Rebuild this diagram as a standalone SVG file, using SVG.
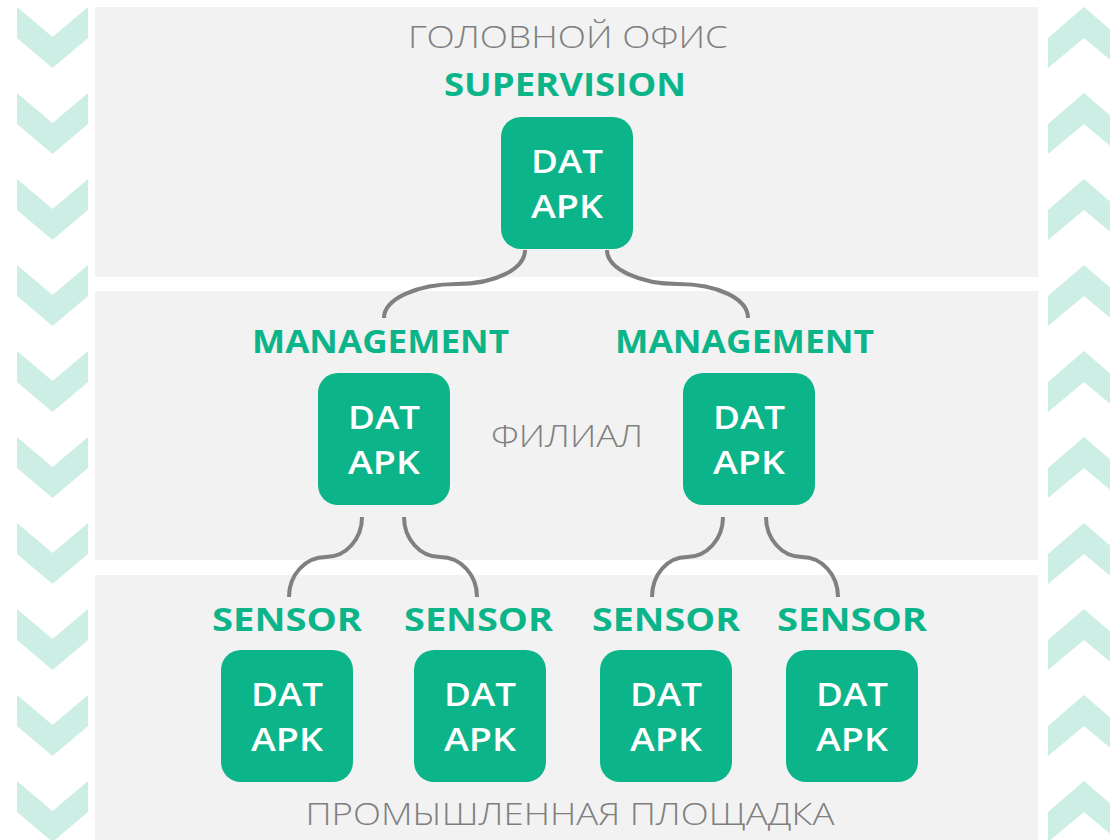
<svg xmlns="http://www.w3.org/2000/svg" xmlns:xlink="http://www.w3.org/1999/xlink" width="1110" height="840" viewBox="0 0 1110 840">
<style>
.band{fill:#f2f2f2}
.chev{fill:#cdeee4}
.node{fill:#0cb489}
.nt{font-family:"Open Sans","DejaVu Sans",sans-serif;font-weight:600;font-size:32px;fill:#ffffff;text-anchor:middle}
.lbl{font-family:"Open Sans","DejaVu Sans",sans-serif;font-weight:700;font-size:32px;fill:#0cb489;text-anchor:middle}
.zone{font-family:"Open Sans","DejaVu Sans",sans-serif;font-weight:300;font-size:31px;fill:#7f7f7f;text-anchor:middle}
.conn{fill:none;stroke:#808080;stroke-width:4}
</style>
<defs>
<path id="chl" d="M17,0 L52.5,30 L88,0 L88,31 L52.5,61 L17,31 Z"/>
<path id="chr" d="M1048,31 L1084,0 L1120,31 L1120,61 L1084,31 L1048,61 Z"/>
</defs>
<rect width="1110" height="840" fill="#ffffff"/>
<g id="chevrons">
<use xlink:href="#chl" class="chev" y="7"/>
<use xlink:href="#chl" class="chev" y="93"/>
<use xlink:href="#chl" class="chev" y="179"/>
<use xlink:href="#chl" class="chev" y="265"/>
<use xlink:href="#chl" class="chev" y="351"/>
<use xlink:href="#chl" class="chev" y="437"/>
<use xlink:href="#chl" class="chev" y="523"/>
<use xlink:href="#chl" class="chev" y="609"/>
<use xlink:href="#chl" class="chev" y="695"/>
<use xlink:href="#chl" class="chev" y="781"/>
<use xlink:href="#chr" class="chev" y="7"/>
<use xlink:href="#chr" class="chev" y="93"/>
<use xlink:href="#chr" class="chev" y="179"/>
<use xlink:href="#chr" class="chev" y="265"/>
<use xlink:href="#chr" class="chev" y="351"/>
<use xlink:href="#chr" class="chev" y="437"/>
<use xlink:href="#chr" class="chev" y="523"/>
<use xlink:href="#chr" class="chev" y="609"/>
<use xlink:href="#chr" class="chev" y="695"/>
<use xlink:href="#chr" class="chev" y="781"/>
</g>
<g id="bands">
<rect class="band" x="95" y="7" width="943" height="270"/>
<rect class="band" x="95" y="291" width="943" height="269"/>
<rect class="band" x="95" y="575" width="943" height="265"/>
</g>
<g id="zone-labels">
<text class="zone" x="568" y="48" textLength="320" lengthAdjust="spacingAndGlyphs">ГОЛОВНОЙ ОФИС</text>
<text class="zone" x="567" y="447" textLength="152" lengthAdjust="spacingAndGlyphs">ФИЛИАЛ</text>
<text class="zone" x="570" y="825" textLength="529" lengthAdjust="spacingAndGlyphs">ПРОМЫШЛЕННАЯ ПЛОЩАДКА</text>
</g>
<g id="connectors">
<path class="conn" d="M525,250 C525,269 495,284 457,284 C417,284 384,299 384,318"/>
<path class="conn" d="M607,250 C607,269 640,284 678,284 C718,284 748,299 748,318"/>
<path class="conn" d="M362,517 C362,539 346,557 326,557 C305,557 289,575 289,597"/>
<path class="conn" d="M404,517 C404,539 420,557 440,557 C461,557 477,575 477,597"/>
<path class="conn" d="M723,517 C723,539 707,557 687,557 C667,557 652,575 652,597"/>
<path class="conn" d="M766,517 C766,539 782,557 802,557 C822,557 838,575 838,597"/>
</g>
<g id="supervision">
<text class="lbl" x="565" y="96" textLength="242" lengthAdjust="spacingAndGlyphs">SUPERVISION</text>
<rect class="node" x="501" y="117" width="132" height="132" rx="20"/>
<text class="nt" x="567" y="173" textLength="72" lengthAdjust="spacingAndGlyphs">DAT</text>
<text class="nt" x="567" y="218" textLength="72" lengthAdjust="spacingAndGlyphs">APK</text>
</g>
<g id="management-1">
<text class="lbl" x="380.5" y="353" textLength="257" lengthAdjust="spacingAndGlyphs">MANAGEMENT</text>
<rect class="node" x="318" y="373" width="132" height="132" rx="20"/>
<text class="nt" x="384" y="429" textLength="72" lengthAdjust="spacingAndGlyphs">DAT</text>
<text class="nt" x="384" y="474" textLength="72" lengthAdjust="spacingAndGlyphs">APK</text>
</g>
<g id="management-2">
<text class="lbl" x="744.5" y="353" textLength="259" lengthAdjust="spacingAndGlyphs">MANAGEMENT</text>
<rect class="node" x="683" y="373" width="132" height="132" rx="20"/>
<text class="nt" x="749" y="429" textLength="72" lengthAdjust="spacingAndGlyphs">DAT</text>
<text class="nt" x="749" y="474" textLength="72" lengthAdjust="spacingAndGlyphs">APK</text>
</g>
<g id="sensor-1">
<text class="lbl" x="287" y="631" textLength="150" lengthAdjust="spacingAndGlyphs">SENSOR</text>
<rect class="node" x="221" y="650" width="132" height="132" rx="20"/>
<text class="nt" x="287" y="706" textLength="72" lengthAdjust="spacingAndGlyphs">DAT</text>
<text class="nt" x="287" y="751" textLength="72" lengthAdjust="spacingAndGlyphs">APK</text>
</g>
<g id="sensor-2">
<text class="lbl" x="478.5" y="631" textLength="149" lengthAdjust="spacingAndGlyphs">SENSOR</text>
<rect class="node" x="414" y="650" width="132" height="132" rx="20"/>
<text class="nt" x="480" y="706" textLength="72" lengthAdjust="spacingAndGlyphs">DAT</text>
<text class="nt" x="480" y="751" textLength="72" lengthAdjust="spacingAndGlyphs">APK</text>
</g>
<g id="sensor-3">
<text class="lbl" x="666" y="631" textLength="148" lengthAdjust="spacingAndGlyphs">SENSOR</text>
<rect class="node" x="600" y="650" width="132" height="132" rx="20"/>
<text class="nt" x="666" y="706" textLength="72" lengthAdjust="spacingAndGlyphs">DAT</text>
<text class="nt" x="666" y="751" textLength="72" lengthAdjust="spacingAndGlyphs">APK</text>
</g>
<g id="sensor-4">
<text class="lbl" x="852" y="631" textLength="150" lengthAdjust="spacingAndGlyphs">SENSOR</text>
<rect class="node" x="786" y="650" width="132" height="132" rx="20"/>
<text class="nt" x="852" y="706" textLength="72" lengthAdjust="spacingAndGlyphs">DAT</text>
<text class="nt" x="852" y="751" textLength="72" lengthAdjust="spacingAndGlyphs">APK</text>
</g>
</svg>
